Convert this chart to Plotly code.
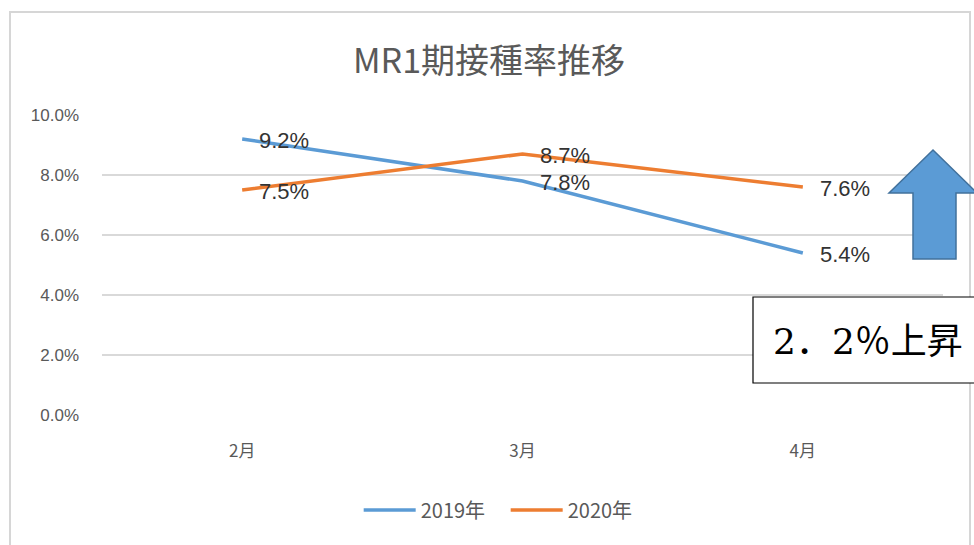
import plotly.graph_objects as go

months = ["2月", "3月", "4月"]
rate_2019 = [0.092, 0.078, 0.054]
rate_2020 = [0.075, 0.087, 0.076]
series_names = ["2019年", "2020年"]
series_colors = ["#5B9BD5", "#ED7D31"]
y_ticks = [0, 0.02, 0.04, 0.06, 0.08, 0.10]
title_text = "MR1期接種率推移"
note_text = "2．2％上昇"

W, H = 974, 545
L, R, T, B = 102, 31, 115, 130
pw, ph = W - L - R, H - T - B


def px(x):
    return (x - L) / pw


def py(y):
    return (H - B - y) / ph


fig = go.Figure()
for name, vals, col in zip(series_names, [rate_2019, rate_2020], series_colors):
    fig.add_trace(go.Scatter(x=months, y=vals, mode="lines", name=name,
                             line=dict(color=col, width=3.5)))

annotations = []
for vals in [rate_2019, rate_2020]:
    for m, v in zip(months, vals):
        annotations.append(dict(x=m, y=v, xref="x", yref="y", text=f"{v*100:.1f}%",
                                showarrow=False, xanchor="left", yanchor="middle",
                                xshift=15, yshift=-1,
                                font=dict(family="Liberation Sans, Arial", size=22, color="#333333")))

annotations.append(dict(x=px(868), y=py(341), xref="paper", yref="paper", text=note_text,
                        showarrow=False, xanchor="center", yanchor="middle",
                        font=dict(family="DejaVu Serif, Noto Sans CJK JP", size=36, color="#000000")))

shapes = [
    dict(type="rect", xref="paper", yref="paper", x0=px(10), x1=px(970), y0=py(570), y1=py(12),
         line=dict(color="#D6D6D6", width=2), fillcolor="rgba(0,0,0,0)", layer="below"),
    dict(type="path", xref="paper", yref="paper",
         path=(f"M {px(933)},{py(150)} L {px(977)},{py(193)} L {px(956)},{py(193)} "
               f"L {px(956)},{py(259)} L {px(913)},{py(259)} L {px(913)},{py(193)} "
               f"L {px(889)},{py(193)} Z"),
         fillcolor="#5B9BD5", line=dict(color="#41719C", width=1.5)),
    dict(type="rect", xref="paper", yref="paper", x0=px(753), x1=px(985), y0=py(383), y1=py(297),
         fillcolor="white", line=dict(color="#000000", width=1.2)),
]

fig.update_layout(
    width=W, height=H,
    margin=dict(l=L, r=R, t=T, b=B),
    paper_bgcolor="white", plot_bgcolor="white",
    title=dict(text=title_text, x=489 / W, xanchor="center", y=1 - 61 / H, yanchor="middle",
               yref="container",
               font=dict(family="Noto Sans CJK JP", size=34, color="#595959")),
    xaxis=dict(type="category", range=[-0.5, 2.5], showgrid=False, zeroline=False,
               showline=False, ticks="", ticklabelstandoff=24,
               tickfont=dict(family="Noto Sans CJK JP", size=17, color="#595959")),
    yaxis=dict(range=[0, 0.1], tickvals=y_ticks, tickformat=".1%", showgrid=True,
               gridcolor="#D9D9D9", gridwidth=1.5, zeroline=False, showline=False,
               ticks="", ticklabelstandoff=22,
               tickfont=dict(family="Liberation Sans, Arial", size=17, color="#595959")),
    legend=dict(orientation="h", x=0.48, xanchor="center", y=py(510), yanchor="middle",
                itemwidth=52, entrywidth=80,
                font=dict(family="Noto Sans CJK JP", size=20, color="#595959")),
    annotations=annotations,
    shapes=shapes,
    showlegend=True,
)

fig.write_html("out.html", config={"displayModeBar": False},
               post_script="document.body.style.margin='0';document.body.style.overflow='hidden';")
